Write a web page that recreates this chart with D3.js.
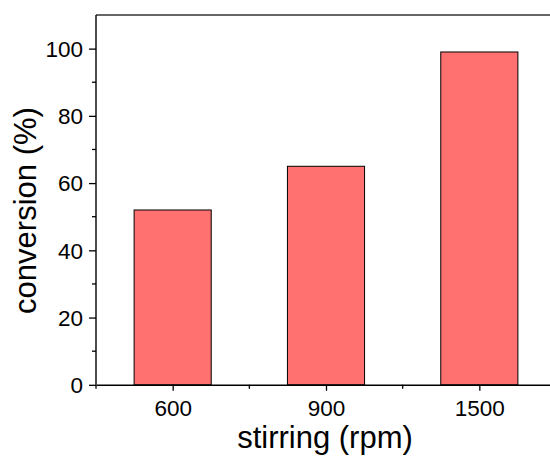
<!DOCTYPE html>
<html><head><meta charset="utf-8">
<script src="https://cdn.jsdelivr.net/npm/d3@7"></script>
<style>body{margin:0;background:#fff}svg{display:block}text{font-family:"Liberation Sans",Arial,sans-serif;fill:#000}</style>
</head><body>
<script>
const categories = ["600", "900", "1500"];
const conversion = [52, 65, 99];
const yTicks = [0, 20, 40, 60, 80, 100];
const xTitle = "stirring (rpm)";
const yTitle = "conversion (%)";

(function () {
const W = 550, H = 456;
const mLeft = 96, mRight = 556, mTop = 15, mBottom = 384.8;
const svg = d3.select("body").append("svg").attr("width", W).attr("height", H);

const x = d3.scaleLinear().domain([-0.5, categories.length - 0.5]).range([mLeft, mRight]);
const y = d3.scaleLinear().domain([0, 110]).range([mBottom, mTop]);
const bw = (x(1) - x(0)) * 0.503;

svg.append("g").selectAll("rect").data(conversion).join("rect")
  .attr("x", (d, i) => x(i) - bw / 2)
  .attr("y", d => y(d))
  .attr("width", bw)
  .attr("height", d => y(0) - y(d))
  .attr("fill", "#FF7070")
  .attr("stroke", "#000")
  .attr("stroke-width", 1);

// frame top line
svg.append("line").attr("x1", mLeft).attr("x2", mRight).attr("y1", mTop).attr("y2", mTop)
  .attr("stroke", "#333").attr("stroke-width", 1.4);

const font = "Liberation Sans, Arial, sans-serif";

// y axis
const yAxis = d3.axisLeft(y).tickValues(yTicks).tickSize(7).tickPadding(6).tickSizeOuter(0);
const gy = svg.append("g").attr("transform", `translate(${mLeft},0)`).call(yAxis);
gy.attr("font-size", null).attr("font-family", null);
gy.select(".domain").attr("stroke", "#000").attr("stroke-width", 1.4).attr("d", `M0,${mTop}V${mBottom}`);
gy.selectAll(".tick line").attr("stroke-width", 1.3);
gy.selectAll(".tick text").style("font-size", "22.5px").style("font-family", font).attr("fill", "#000").attr("dy", "0.35em");
const yMinor = yTicks.slice(0, -1).map(v => v + 10);
svg.append("g").selectAll("line").data(yMinor).join("line")
  .attr("x1", mLeft - 4).attr("x2", mLeft).attr("y1", d => y(d)).attr("y2", d => y(d))
  .attr("stroke", "#000").attr("stroke-width", 1.3);

// x axis
const xAxis = d3.axisBottom(x).tickValues(d3.range(categories.length)).tickFormat(i => categories[i])
  .tickSize(6).tickPadding(9).tickSizeOuter(0);
const gx = svg.append("g").attr("transform", `translate(0,${mBottom})`).call(xAxis);
gx.attr("font-size", null).attr("font-family", null);
gx.select(".domain").attr("stroke", "#000").attr("stroke-width", 1.4);
gx.selectAll(".tick line").attr("stroke-width", 1.3);
gx.selectAll(".tick text").style("font-size", "22.5px").style("font-family", font).attr("fill", "#000");
const xMinor = d3.range(categories.length + 1).map(i => i - 0.5);
svg.append("g").selectAll("line").data(xMinor).join("line")
  .attr("x1", d => x(d)).attr("x2", d => x(d)).attr("y1", mBottom).attr("y2", mBottom + 4)
  .attr("stroke", "#000").attr("stroke-width", 1.3);

// titles
svg.append("text").attr("x", 325).attr("y", 448).attr("text-anchor", "middle")
  .style("font-size", "31px").text(xTitle);
svg.append("text").attr("transform", "translate(36,210.5) rotate(-90)").attr("text-anchor", "middle")
  .style("font-size", "31px").text(yTitle);
})();
</script>
</body></html>
